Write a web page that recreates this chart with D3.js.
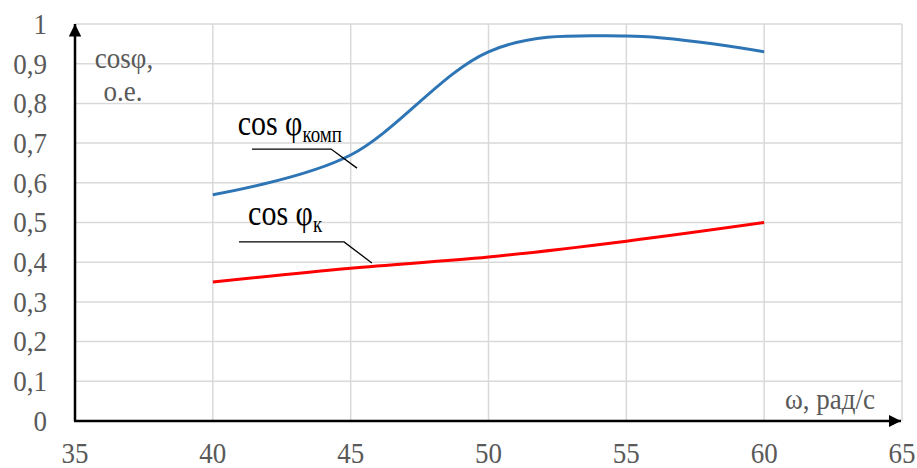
<!DOCTYPE html>
<html>
<head>
<meta charset="utf-8">
<script src="https://cdn.jsdelivr.net/npm/d3@7"></script>
<style>
  body { margin: 0; background: #fff; }
</style>
</head>
<body>
<div id="container"></div>
<script>
const width = 917, height = 468;
const serif = '"Liberation Serif"';
const grey = "#595959";

// data
const omega = [40, 45, 50, 55, 60];
const cosKomp = [0.57, 0.67, 0.93, 0.97, 0.93];
const cosK = [0.35, 0.385, 0.413, 0.453, 0.5];
const xTicks = [35, 40, 45, 50, 55, 60, 65];
const yTicks = [0, 0.1, 0.2, 0.3, 0.4, 0.5, 0.6, 0.7, 0.8, 0.9, 1];

const x = d3.scaleLinear().domain([35, 65]).range([75, 902]);
const y = d3.scaleLinear().domain([0, 1]).range([421, 24]);

const svg = d3.select("#container").append("svg")
    .attr("width", width)
    .attr("height", height);

function label(sel, size) {
    return sel.style("font-family", serif)
        .style("font-size", size + "px")
        .attr("fill", grey);
}

// grid
svg.append("g").selectAll("line")
    .data(yTicks.slice(1))
    .join("line")
    .attr("x1", x(35)).attr("x2", x(65))
    .attr("y1", d => y(d)).attr("y2", d => y(d))
    .attr("stroke", "#d9d9d9").attr("stroke-width", 1.5);

svg.append("g").selectAll("line")
    .data(xTicks.slice(1))
    .join("line")
    .attr("x1", d => x(d)).attr("x2", d => x(d))
    .attr("y1", y(0)).attr("y2", y(1))
    .attr("stroke", "#d9d9d9").attr("stroke-width", 1.5);

// tick labels (stretched a bit vertically like the original)
const fmt = d => String(d).replace(".", ",");
svg.append("g").selectAll("text")
    .data(yTicks)
    .join("text")
    .call(label, 27)
    .attr("text-anchor", "end")
    .attr("transform", d => `translate(47,${y(d)}) scale(1,1.1)`)
    .attr("dy", "0.33em")
    .text(fmt);

svg.append("g").selectAll("text")
    .data(xTicks)
    .join("text")
    .call(label, 27)
    .attr("text-anchor", "middle")
    .attr("transform", d => `translate(${x(d)},453) scale(1,1.1)`)
    .attr("dy", "0.33em")
    .text(d => d);

// axes with arrows
const defs = svg.append("defs");
defs.append("marker")
    .attr("id", "arrow")
    .attr("viewBox", "0 0 10 10")
    .attr("refX", 10).attr("refY", 5)
    .attr("markerWidth", 5).attr("markerHeight", 5)
    .attr("markerUnits", "strokeWidth")
    .attr("orient", "auto")
  .append("path")
    .attr("d", "M0,0L10,5L0,10z")
    .attr("fill", "#000");

svg.append("line")
    .attr("x1", x(35)).attr("y1", y(0))
    .attr("x2", x(35)).attr("y2", y(1))
    .attr("stroke", "#000").attr("stroke-width", 2.5)
    .attr("marker-end", "url(#arrow)");

svg.append("line")
    .attr("x1", x(35) - 1).attr("y1", y(0))
    .attr("x2", x(65) - 1).attr("y2", y(0))
    .attr("stroke", "#000").attr("stroke-width", 2.5)
    .attr("marker-end", "url(#arrow)");

// axis titles
svg.append("text")
    .call(label, 27)
    .attr("text-anchor", "middle")
    .attr("transform", "translate(124,68) scale(1,1.1)")
    .text("cosφ,");
svg.append("text")
    .call(label, 27)
    .attr("text-anchor", "middle")
    .attr("transform", "translate(123,101) scale(1,1.1)")
    .text("о.е.");
svg.append("text")
    .call(label, 27)
    .attr("text-anchor", "end")
    .attr("transform", "translate(875,409) scale(1,1.1)")
    .text("ω, рад/с");

// lines
const line = d3.line()
    .x((d, i) => x(omega[i]))
    .y(d => y(d))
    .curve(d3.curveCatmullRom.alpha(0));

svg.append("path")
    .datum(cosKomp)
    .attr("d", line)
    .attr("fill", "none")
    .attr("stroke", "#2e75b6")
    .attr("stroke-width", 3);

svg.append("path")
    .datum(cosK)
    .attr("d", line)
    .attr("fill", "none")
    .attr("stroke", "#ff0000")
    .attr("stroke-width", 3);

// annotations, positioned in data units
const notes = [
    {sub: "комп", tx: 40.9, ty: 0.72, leader: [[41.42, 0.685], [44.29, 0.685], [45.23, 0.637]]},
    {sub: "к", tx: 41.28, ty: 0.494, leader: [[40.95, 0.451], [44.76, 0.451], [45.77, 0.398]]}
];

notes.forEach(n => {
    const t = svg.append("text")
        .attr("transform", `translate(${x(n.tx)},${y(n.ty)}) scale(1,1.22)`)
        .attr("fill", "#000")
        .style("font-family", serif)
        .style("font-size", "30px");
    t.append("tspan").text("cos φ");
    t.append("tspan")
        .attr("dy", 6)
        .style("font-size", "19px")
        .text(n.sub);

    svg.append("path")
        .attr("d", d3.line().x(d => x(d[0])).y(d => y(d[1]))(n.leader))
        .attr("fill", "none")
        .attr("stroke", "#000")
        .attr("stroke-width", 1.3);
});
</script>
</body>
</html>
